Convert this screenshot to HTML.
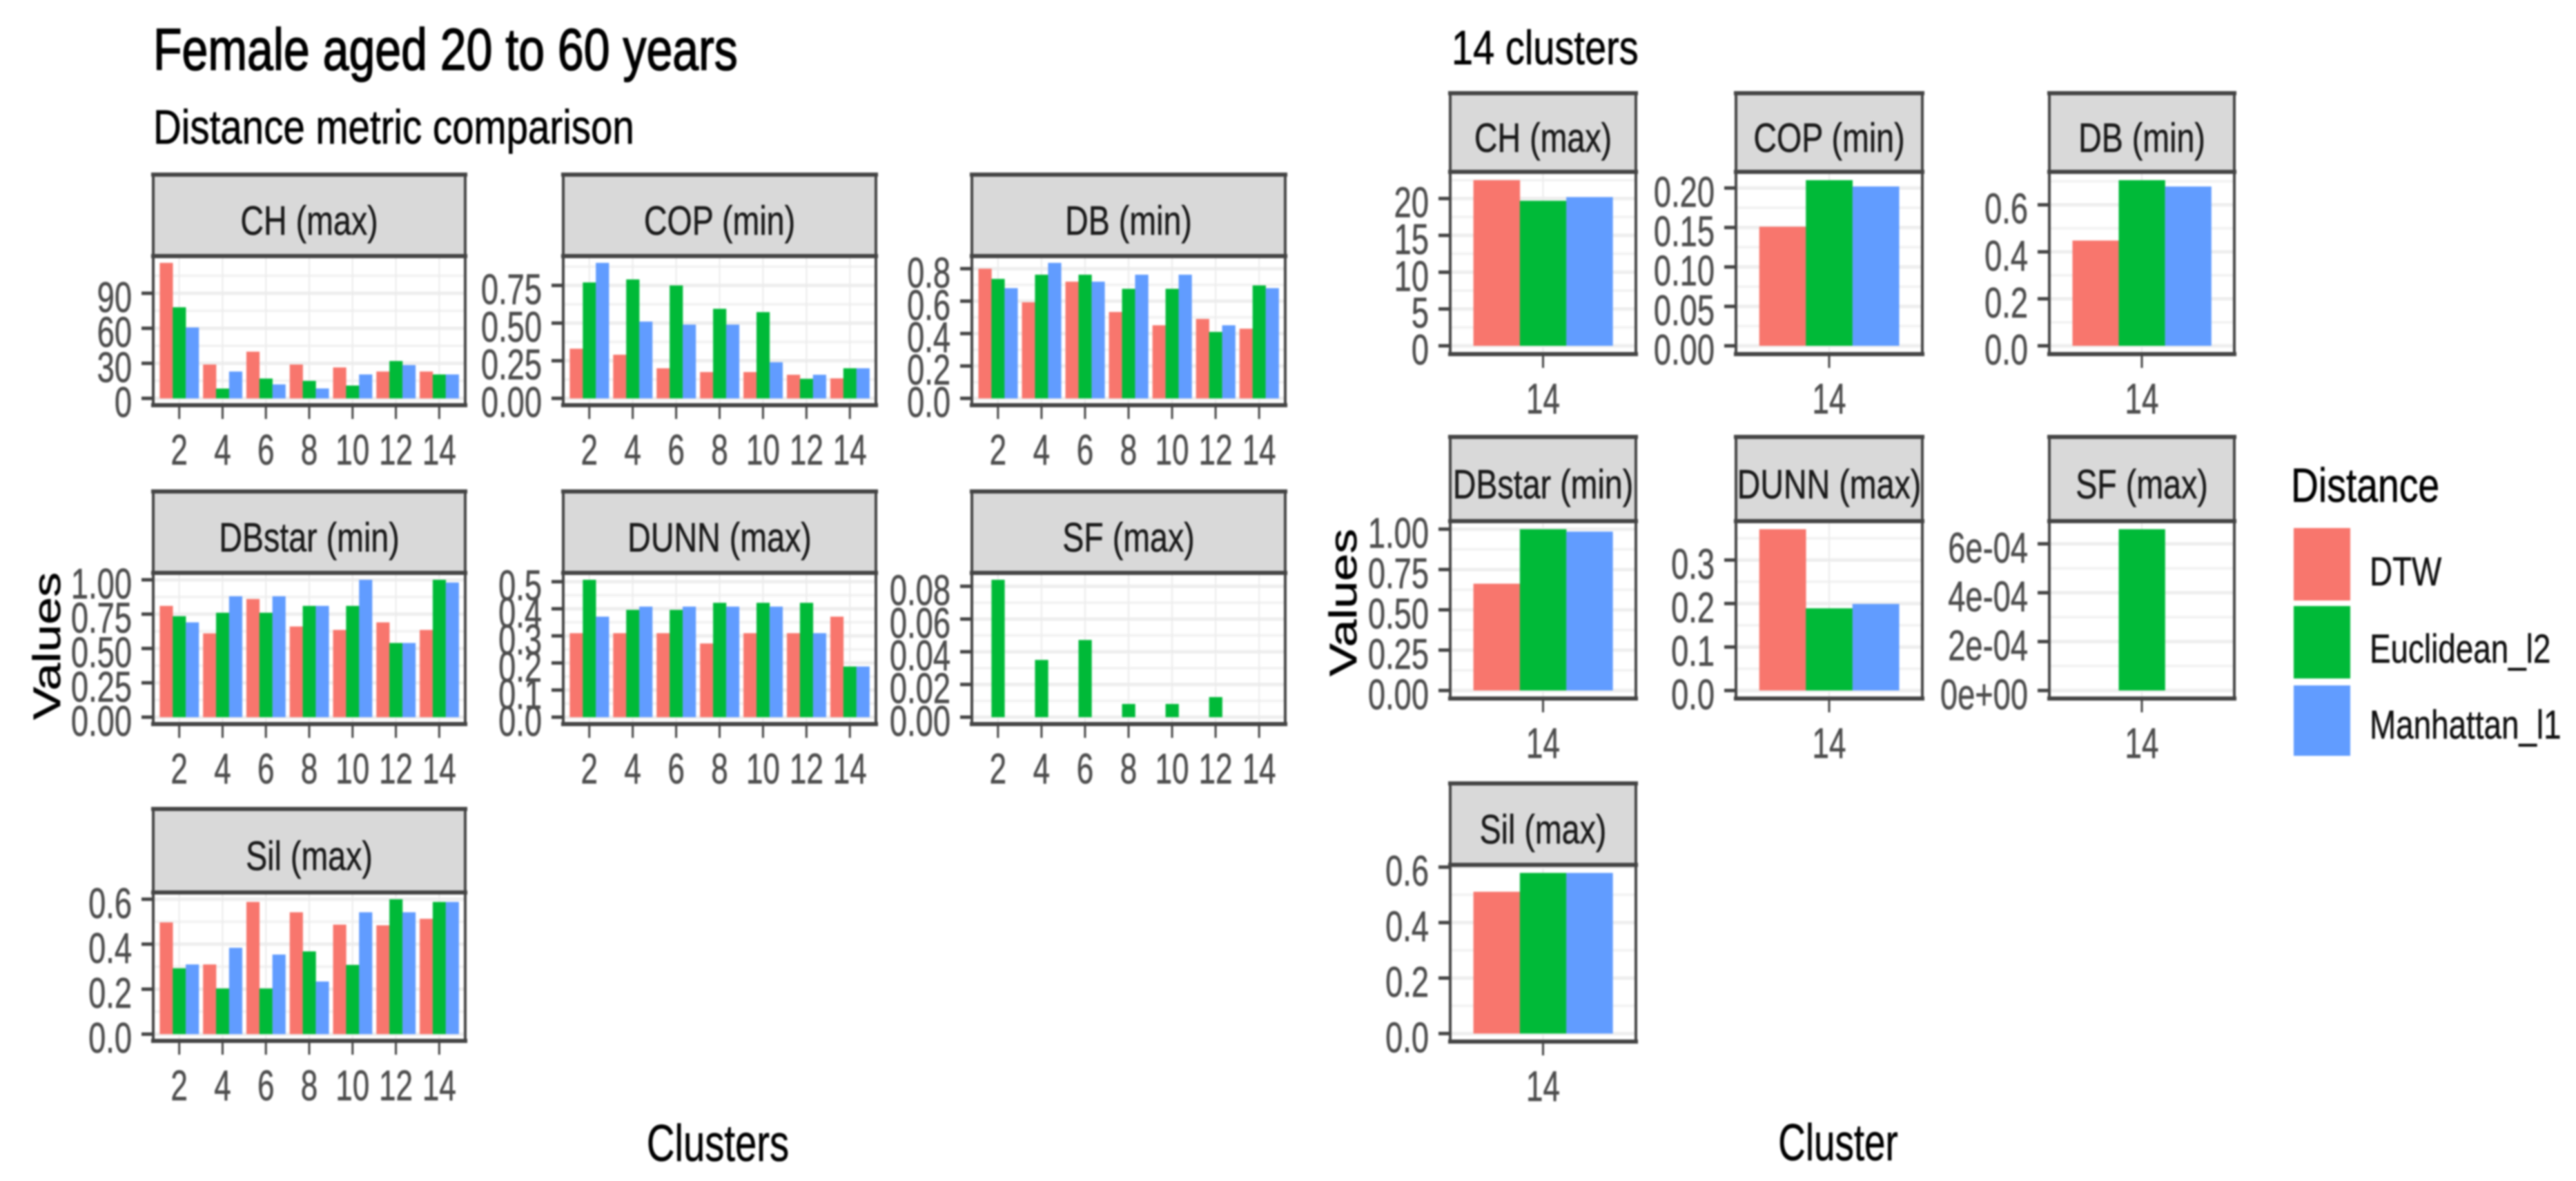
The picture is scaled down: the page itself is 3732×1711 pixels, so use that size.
<!DOCTYPE html>
<html lang="en">
<head>
<meta charset="utf-8">
<title>Female aged 20 to 60 years - Distance metric comparison</title>
<style>
html,body{margin:0;padding:0;background:#fff;width:3732px;height:1711px;overflow:hidden}
svg{display:block;filter:blur(1.4px);font-family:"Liberation Sans",Arial,sans-serif}
</style>
</head>
<body>
<svg id="chart" xmlns="http://www.w3.org/2000/svg" width="3732" height="1711" viewBox="0 0 3732 1711">
  <rect x="0" y="0" width="3732" height="1711" fill="#fff"/>
  <text transform="translate(222,101) scale(0.8,1)" font-size="85" fill="#000" stroke="#000" stroke-width="1.6">Female aged 20 to 60 years</text>
  <text transform="translate(222,208) scale(0.807,1)" font-size="70" fill="#000" stroke="#000" stroke-width="0.7">Distance metric comparison</text>
  <text transform="translate(2103,93) scale(0.8,1)" font-size="70" fill="#000" stroke="#000" stroke-width="0.7">14 clusters</text>
  <text transform="translate(87,936) rotate(-90) scale(1.28,1)" font-size="56" text-anchor="middle" fill="#000" stroke="#000" stroke-width="0.6">Values</text>
  <text transform="translate(1965,873) rotate(-90) scale(1.28,1)" font-size="56" text-anchor="middle" fill="#000" stroke="#000" stroke-width="0.6">Values</text>
  <text transform="translate(1040,1682) scale(0.75,1)" font-size="75" text-anchor="middle" fill="#000" stroke="#000" stroke-width="0.6">Clusters</text>
  <text transform="translate(2663,1681) scale(0.73,1)" font-size="75" text-anchor="middle" fill="#000" stroke="#000" stroke-width="0.6">Cluster</text>

  <g>
    <text transform="translate(3319,727) scale(0.79,1)" font-size="70" fill="#000" stroke="#000" stroke-width="0.6">Distance</text>
    <rect x="3323" y="765" width="82" height="105" fill="#F8766D"/>
    <rect x="3323" y="878" width="82" height="105" fill="#00BA38"/>
    <rect x="3323" y="993" width="82" height="102" fill="#619CFF"/>
    <text transform="translate(3433,848) scale(0.79,1)" font-size="58" fill="#111" stroke="#111" stroke-width="0.5">DTW</text>
    <text transform="translate(3433,960) scale(0.79,1)" font-size="58" fill="#111" stroke="#111" stroke-width="0.5">Euclidean_l2</text>
    <text transform="translate(3433,1070) scale(0.79,1)" font-size="58" fill="#111" stroke="#111" stroke-width="0.5">Manhattan_l1</text>
  </g>
</svg>
<script>
// ---- Categories ----
const clusterCats = ['2','4','6','8','10','12','14'];
const singleCat = ['14'];

// ---- Left block: values per cluster count ----
const chDtw = [116,29,40,29,26.5,23,23];
const chEuc = [78,8.4,17,15,11,32,20.5];
const chMan = [60.7,23,12,8.5,20.5,28.5,20.5];
const chTicks = [0,30,60,90];
const chTickLabels = ['0','30','60','90'];

const copDtw = [0.33,0.29,0.20,0.175,0.175,0.157,0.133];
const copEuc = [0.77,0.79,0.75,0.595,0.573,0.13,0.20];
const copMan = [0.90,0.51,0.49,0.49,0.24,0.157,0.20];
const copTicks = [0,0.25,0.5,0.75];
const copTickLabels = ['0.00','0.25','0.50','0.75'];

const dbDtw = [0.80,0.593,0.72,0.533,0.451,0.49,0.43];
const dbEuc = [0.737,0.763,0.763,0.676,0.676,0.41,0.697];
const dbMan = [0.68,0.836,0.72,0.763,0.763,0.451,0.68];
const dbTicks = [0,0.2,0.4,0.6,0.8];
const dbTickLabels = ['0.0','0.2','0.4','0.6','0.8'];

const dbstarDtw = [0.81,0.61,0.86,0.66,0.635,0.69,0.635];
const dbstarEuc = [0.735,0.76,0.76,0.81,0.81,0.54,1.0];
const dbstarMan = [0.69,0.88,0.88,0.81,1.0,0.54,0.98];
const dbstarTicks = [0,0.25,0.5,0.75,1];
const dbstarTickLabels = ['0.00','0.25','0.50','0.75','1.00'];

const dunnDtw = [0.31,0.31,0.31,0.272,0.31,0.31,0.371];
const dunnEuc = [0.507,0.396,0.396,0.422,0.422,0.422,0.187];
const dunnMan = [0.371,0.408,0.408,0.408,0.408,0.31,0.187];
const dunnTicks = [0,0.1,0.2,0.3,0.4,0.5];
const dunnTickLabels = ['0.0','0.1','0.2','0.3','0.4','0.5'];

const sfDtw = [null,null,null,null,null,null,null];
const sfEuc = [0.084,0.035,0.0472,0.0081,0.0081,0.0123,null];
const sfMan = [null,null,null,null,null,null,null];
const sfTicks = [0,0.02,0.04,0.06,0.08];
const sfTickLabels = ['0.00','0.02','0.04','0.06','0.08'];

const silDtw = [0.497,0.31,0.588,0.542,0.487,0.484,0.513];
const silEuc = [0.293,0.203,0.203,0.368,0.308,0.60,0.588];
const silMan = [0.31,0.384,0.354,0.234,0.542,0.542,0.588];
const silTicks = [0,0.2,0.4,0.6];
const silTickLabels = ['0.0','0.2','0.4','0.6'];

// ---- Right block: values at 14 clusters ----
const ch14Dtw = [22.5];
const ch14Euc = [19.7];
const ch14Man = [20.2];
const ch14Ticks = [0,5,10,15,20];
const ch14TickLabels = ['0','5','10','15','20'];

const cop14Dtw = [0.151];
const cop14Euc = [0.21];
const cop14Man = [0.202];
const cop14Ticks = [0,0.05,0.1,0.15,0.2];
const cop14TickLabels = ['0.00','0.05','0.10','0.15','0.20'];

const db14Dtw = [0.448];
const db14Euc = [0.705];
const db14Man = [0.678];
const db14Ticks = [0,0.2,0.4,0.6];
const db14TickLabels = ['0.0','0.2','0.4','0.6'];

const dbstar14Dtw = [0.662];
const dbstar14Euc = [1.0];
const dbstar14Man = [0.985];
const dbstar14Ticks = [0,0.25,0.5,0.75,1];
const dbstar14TickLabels = ['0.00','0.25','0.50','0.75','1.00'];

const dunn14Dtw = [0.371];
const dunn14Euc = [0.189];
const dunn14Man = [0.199];
const dunn14Ticks = [0,0.1,0.2,0.3];
const dunn14TickLabels = ['0.0','0.1','0.2','0.3'];

const sf14Dtw = [null];
const sf14Euc = [0.00066];
const sf14Man = [null];
const sf14Ticks = [0,0.0002,0.0004,0.0006];
const sf14TickLabels = ['0e+00','2e-04','4e-04','6e-04'];

const sil14Dtw = [0.511];
const sil14Euc = [0.579];
const sil14Man = [0.579];
const sil14Ticks = [0,0.2,0.4,0.6];
const sil14TickLabels = ['0.0','0.2','0.4','0.6'];

const seriesNames = ['dtw','euclidean','manhattan'];
const seriesColors = ['#F8766D','#00BA38','#619CFF'];

const NS = 'http://www.w3.org/2000/svg';
const root = document.getElementById('chart');

function mk(tag, attrs, parent) {
  const el = document.createElementNS(NS, tag);
  for (const k in attrs) el.setAttribute(k, attrs[k]);
  parent.appendChild(el);
  return el;
}

// Panel axis functions: band x scale (ggplot discrete) and linear y scale with 5% expansion.
function makeXScale(cats, left, right) {
  const unit = (right - left) / (cats.length - 1 + 1.2);
  return { unit: unit, at: function (i) { return left + (0.6 + i) * unit; } };
}
function makeYScale(maxValue, top, bottom) {
  const h = bottom - top;
  return function (v) { return bottom - (v + 0.05 * maxValue) / (1.1 * maxValue) * h; };
}

function drawPanel(key, title, cats, series, ticks, tickLabels, left, right, stripTop, top, bottom) {
  const g = mk('g', {}, root);
  
  

  const all = series[0].concat(series[1], series[2]).filter(function (v) { return v !== null; });
  const maxValue = Math.max.apply(null, all);
  const x = makeXScale(cats, left, right);
  const y = makeYScale(maxValue, top, bottom);

  const strip = mk('rect', { x: left, y: stripTop, width: right - left, height: top - stripTop, fill: '#d9d9d9' }, g);
  
  

  const stripText = mk('text', {
    transform: 'translate(' + ((left + right) / 2) + ',' + ((stripTop + top) / 2 + 28) + ') scale(0.79,1)',
    'font-size': 59, 'text-anchor': 'middle', fill: '#1a1a1a', stroke: '#1a1a1a', 'stroke-width': 0.5
  }, g);
  stripText.textContent = title;
  
  

  // Gridlines
  const step = ticks[1] - ticks[0];
  const lowV = -0.05 * maxValue;
  const highV = 1.05 * maxValue;
  for (let m = ticks[0] - step / 2; m <= highV; m += step) {
    if (m < lowV) continue;
    const minor = mk('line', { x1: left, x2: right, y1: y(m), y2: y(m), stroke: '#f3f3f3', 'stroke-width': 4 }, g);
    
    
  }
  ticks.forEach(function (t) {
    const major = mk('line', { x1: left, x2: right, y1: y(t), y2: y(t), stroke: '#eeeeee', 'stroke-width': 5 }, g);
    
    
  });
  cats.forEach(function (c, i) {
    const vline = mk('line', { x1: x.at(i), x2: x.at(i), y1: top, y2: bottom, stroke: '#ebebeb', 'stroke-width': 2 }, g);
    
    
  });

  // Bars
  const barW = x.unit * 0.3;
  cats.forEach(function (c, i) {
    series.forEach(function (values, s) {
      const v = values[i];
      if (v === null || v === undefined) return;
      const yTop = y(v);
      const bar = mk('rect', {
        x: x.at(i) + (s - 1.5) * barW, y: yTop, width: barW + 0.3, height: y(0) - yTop, fill: seriesColors[s]
      }, g);
      
      
    });
  });

  // Frame
  [[left, stripTop, right, stripTop, 6], [left, top, right, top, 6], [left, bottom, right, bottom, 6],
   [left, stripTop, left, bottom, 4], [right, stripTop, right, bottom, 4]].forEach(function (f) {
    const border = mk('line', { x1: f[0], y1: f[1], x2: f[2], y2: f[3], stroke: '#444', 'stroke-width': f[4], 'stroke-linecap': 'square' }, g);
    
    
  });

  // Y axis
  ticks.forEach(function (t, i) {
    const tick = mk('line', { x1: left - 17, x2: left, y1: y(t), y2: y(t), stroke: '#444', 'stroke-width': 5 }, g);
    
    
    const lab = mk('text', {
      transform: 'translate(' + (left - 31) + ',' + (y(t) + 27) + ') scale(0.73,1)',
      'font-size': 62, 'text-anchor': 'end', fill: '#4d4d4d', stroke: '#4d4d4d', 'stroke-width': 0.6
    }, g);
    lab.textContent = tickLabels[i];
    
    
  });

  // X axis
  cats.forEach(function (c, i) {
    const tick = mk('line', { x1: x.at(i), x2: x.at(i), y1: bottom, y2: bottom + 20, stroke: '#444', 'stroke-width': 3 }, g);
    
    
    const lab = mk('text', {
      transform: 'translate(' + x.at(i) + ',' + (bottom + 86) + ') scale(0.71,1)',
      'font-size': 62, 'text-anchor': 'middle', fill: '#4d4d4d', stroke: '#4d4d4d', 'stroke-width': 0.6
    }, g);
    lab.textContent = c;
    
    
  });
}

// Left facet grid
drawPanel('ch', 'CH (max)', clusterCats, [chDtw, chEuc, chMan], chTicks, chTickLabels, 222, 674, 253, 371, 587);
drawPanel('cop', 'COP (min)', clusterCats, [copDtw, copEuc, copMan], copTicks, copTickLabels, 816, 1269, 253, 371, 587);
drawPanel('db', 'DB (min)', clusterCats, [dbDtw, dbEuc, dbMan], dbTicks, dbTickLabels, 1408, 1862, 253, 371, 587);
drawPanel('dbstar', 'DBstar (min)', clusterCats, [dbstarDtw, dbstarEuc, dbstarMan], dbstarTicks, dbstarTickLabels, 222, 674, 712, 830, 1049);
drawPanel('dunn', 'DUNN (max)', clusterCats, [dunnDtw, dunnEuc, dunnMan], dunnTicks, dunnTickLabels, 816, 1269, 712, 830, 1049);
drawPanel('sf', 'SF (max)', clusterCats, [sfDtw, sfEuc, sfMan], sfTicks, sfTickLabels, 1408, 1862, 712, 830, 1049);
drawPanel('sil', 'Sil (max)', clusterCats, [silDtw, silEuc, silMan], silTicks, silTickLabels, 222, 674, 1172, 1293, 1508);

// Right facet grid
drawPanel('ch-14', 'CH (max)', singleCat, [ch14Dtw, ch14Euc, ch14Man], ch14Ticks, ch14TickLabels, 2101, 2370, 135, 249, 513);
drawPanel('cop-14', 'COP (min)', singleCat, [cop14Dtw, cop14Euc, cop14Man], cop14Ticks, cop14TickLabels, 2515, 2785, 135, 249, 513);
drawPanel('db-14', 'DB (min)', singleCat, [db14Dtw, db14Euc, db14Man], db14Ticks, db14TickLabels, 2969, 3237, 135, 249, 513);
drawPanel('dbstar-14', 'DBstar (min)', singleCat, [dbstar14Dtw, dbstar14Euc, dbstar14Man], dbstar14Ticks, dbstar14TickLabels, 2101, 2370, 633, 755, 1012);
drawPanel('dunn-14', 'DUNN (max)', singleCat, [dunn14Dtw, dunn14Euc, dunn14Man], dunn14Ticks, dunn14TickLabels, 2515, 2785, 633, 755, 1012);
drawPanel('sf-14', 'SF (max)', singleCat, [sf14Dtw, sf14Euc, sf14Man], sf14Ticks, sf14TickLabels, 2969, 3237, 633, 755, 1012);
drawPanel('sil-14', 'Sil (max)', singleCat, [sil14Dtw, sil14Euc, sil14Man], sil14Ticks, sil14TickLabels, 2101, 2370, 1135, 1253, 1509);
</script>
</body>
</html>
